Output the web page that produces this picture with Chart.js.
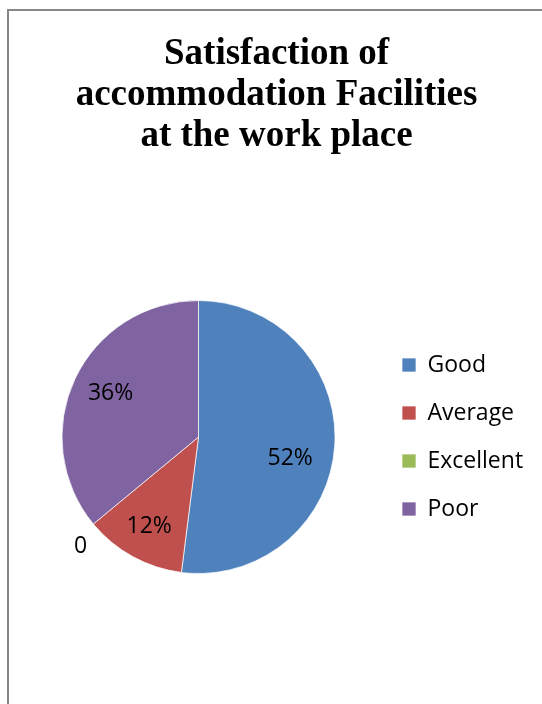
<!DOCTYPE html>
<html>
<head>
<meta charset="utf-8">
<script src="https://cdn.jsdelivr.net/npm/chart.js@4.4.1/dist/chart.umd.min.js"></script>
<style>
  html, body { margin: 0; padding: 0; background: #fff; overflow: hidden; }
  #frame {
    position: absolute; left: 7px; top: 9px; width: 560px; height: 720px;
    border-left: 2px solid #878787; border-top: 2px solid #878787;
  }
  #box { position: absolute; left: 9px; top: 11px; width: 533px; height: 693px; }
</style>
</head>
<body>
<div id="frame"></div>
<div id="box"><canvas id="pie"></canvas></div>
<script>
const categories = ['Good', 'Average', 'Excellent', 'Poor'];
const shares = [52, 12, 0, 36];
const shareLabels = ['52%', '12%', '0', '36%'];
const sliceColors = ['#4F81BD', '#C0504D', '#9BBB59', '#8064A2'];
const titleLines = ['Satisfaction of', 'accommodation Facilities', 'at the work place'];

const labelFont = '"Open Sans", "Noto Sans", sans-serif';
const labelSize = 23;

// legend width depends on the longest label, work out right padding from it
const probe = document.createElement('canvas').getContext('2d');
probe.font = labelSize + 'px ' + labelFont;
let longest = 0;
categories.forEach(c => { longest = Math.max(longest, probe.measureText(c).width); });
const legendPad = 25;
const legendWidth = legendPad + 14 + labelSize / 2 + longest + 10;
const padRight = Math.max(0, 533 - 368 - legendWidth);

// percent labels on the slices
const sliceLabels = {
  id: 'sliceLabels',
  afterDatasetsDraw(chart, args, opts) {
    const ctx = chart.ctx;
    chart.getDatasetMeta(0).data.forEach((arc, i) => {
      const p = arc.getProps(['x', 'y', 'startAngle', 'endAngle', 'outerRadius'], true);
      const a = (p.startAngle + p.endAngle) / 2 + opts.shift[i] * Math.PI / 180;
      const r = p.outerRadius * opts.radius[i];
      ctx.save();
      ctx.font = labelSize + 'px ' + labelFont;
      ctx.fillStyle = '#000';
      ctx.textAlign = 'center';
      ctx.textBaseline = 'middle';
      ctx.fillText(shareLabels[i], p.x + Math.cos(a) * r, p.y + Math.sin(a) * r);
      ctx.restore();
    });
  }
};

new Chart(document.getElementById('pie'), {
  type: 'pie',
  data: {
    labels: categories,
    datasets: [{
      data: shares,
      backgroundColor: sliceColors,
      borderColor: 'rgba(255,255,255,0.7)',
      borderWidth: 1
    }]
  },
  options: {
    responsive: true,
    maintainAspectRatio: false,
    animation: false,
    layout: { padding: { left: 11, right: padRight, top: 0, bottom: 130 } },
    plugins: {
      tooltip: { enabled: false },
      title: {
        display: true,
        text: titleLines,
        color: '#000',
        font: { family: '"Liberation Serif", "Times New Roman", serif', size: 37, weight: 'bold', lineHeight: 41 / 37 },
        padding: { top: 23, bottom: 143 }
      },
      legend: {
        position: 'right',
        fullSize: false,
        labels: {
          boxWidth: 14,
          boxHeight: 14,
          padding: legendPad,
          color: '#000',
          font: { family: labelFont, size: labelSize }
        }
      },
      sliceLabels: {
        radius: [0.69, 0.75, 1.18, 0.72],
        shift: [9.6, 0, -3.3, 1.4]
      }
    }
  },
  plugins: [sliceLabels]
});
</script>
</body>
</html>
